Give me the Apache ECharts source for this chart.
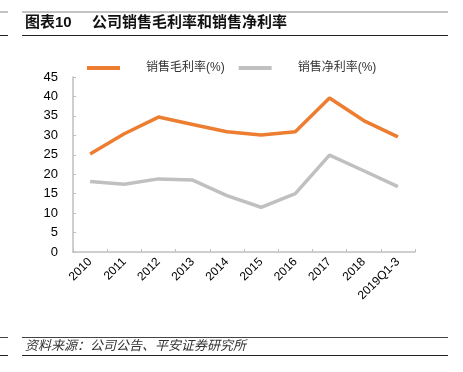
<!DOCTYPE html>
<html><head><meta charset="utf-8">
<script src="https://cdn.jsdelivr.net/npm/echarts@6/dist/echarts.min.js"></script>
<style>html,body{margin:0;padding:0;background:#fff}#c{width:463px;height:372px}</style>
</head><body><div id="c"></div>
<script>
const categories = ['2010','2011','2012','2013','2014','2015','2016','2017','2018','2019Q1-3'];
const grossMargin = [25.2, 30.4, 34.7, 32.8, 30.9, 30.1, 30.9, 39.6, 33.8, 29.6];
const netMargin = [18.1, 17.4, 18.8, 18.5, 14.5, 11.5, 15.0, 24.9, 20.9, 16.8];
const seriesNames = ['销售毛利率(%)', '销售净利率(%)'];
const titleText = '图表10';
const titleSub = '公司销售毛利率和销售净利率';
const sourceText = '资料来源：公司公告、平安证券研究所';

const font = '"Liberation Sans", Arial, "Noto Sans CJK SC", sans-serif';
const chart = echarts.init(document.getElementById('c'), null, {renderer: 'canvas'});
chart.setOption({
  animation: false,
  backgroundColor: '#fff',
  textStyle: {fontFamily: font},
  grid: {left: 73, right: 48, top: 77, bottom: 120, containLabel: false},
  legend: {
    left: 82, top: 57, padding: 5, itemWidth: 33, itemHeight: 4, itemGap: 14,
    icon: 'rect',
    textStyle: {fontSize: 12, color: '#333', fontFamily: font, padding: [0, 0, 0, 21]},
    data: seriesNames
  },
  xAxis: {
    type: 'category', data: categories, boundaryGap: true,
    axisLine: {lineStyle: {color: '#bfbfbf', width: 1.5}},
    axisTick: {show: true, inside: true, length: 3, alignWithLabel: false, lineStyle: {color: '#bfbfbf'}},
    axisLabel: {rotate: 45, fontSize: 12, color: '#000', margin: 8, interval: 0, fontFamily: font}
  },
  yAxis: {
    type: 'value', min: 0, max: 45, interval: 5,
    axisLine: {show: true, lineStyle: {color: '#bfbfbf', width: 1.5}},
    axisTick: {show: true, inside: true, length: 3, lineStyle: {color: '#bfbfbf'}},
    splitLine: {show: false},
    axisLabel: {fontSize: 13, color: '#000', margin: 15, fontFamily: font}
  },
  series: [
    {name: seriesNames[0], type: 'line', data: grossMargin, showSymbol: false, symbol: 'none',
     lineStyle: {color: '#ED7D31', width: 3.5}, itemStyle: {color: '#ED7D31'}},
    {name: seriesNames[1], type: 'line', data: netMargin, showSymbol: false, symbol: 'none',
     lineStyle: {color: '#C0C0C0', width: 3.5}, itemStyle: {color: '#C0C0C0'}}
  ],
  graphic: [
    {type: 'line', shape: {x1: 0, y1: 12, x2: 8, y2: 12}, style: {stroke: '#888', lineWidth: 1}},
    {type: 'line', shape: {x1: 22, y1: 12, x2: 448, y2: 12}, style: {stroke: '#888', lineWidth: 1}},
    {type: 'line', shape: {x1: 0, y1: 35.5, x2: 8, y2: 35.5}, style: {stroke: '#222', lineWidth: 1}},
    {type: 'line', shape: {x1: 22, y1: 35.5, x2: 448, y2: 35.5}, style: {stroke: '#222', lineWidth: 1}},
    {type: 'text', left: 25, top: 15, style: {text: titleText, fill: '#111', font: 'bold 15px ' + font}},
    {type: 'text', left: 92, top: 15, style: {text: titleSub, fill: '#111', font: 'bold 15px ' + font}},
    {type: 'line', shape: {x1: 0, y1: 337.5, x2: 8, y2: 337.5}, style: {stroke: '#444', lineWidth: 1}},
    {type: 'line', shape: {x1: 22, y1: 337.5, x2: 448, y2: 337.5}, style: {stroke: '#444', lineWidth: 1}},
    {type: 'line', shape: {x1: 0, y1: 355.5, x2: 8, y2: 355.5}, style: {stroke: '#222', lineWidth: 1}},
    {type: 'line', shape: {x1: 22, y1: 355.5, x2: 448, y2: 355.5}, style: {stroke: '#222', lineWidth: 1}},
    {type: 'text', left: 25, top: 340, style: {text: sourceText, fill: '#333', font: 'italic 13px ' + font}}
  ]
});
</script></body></html>
